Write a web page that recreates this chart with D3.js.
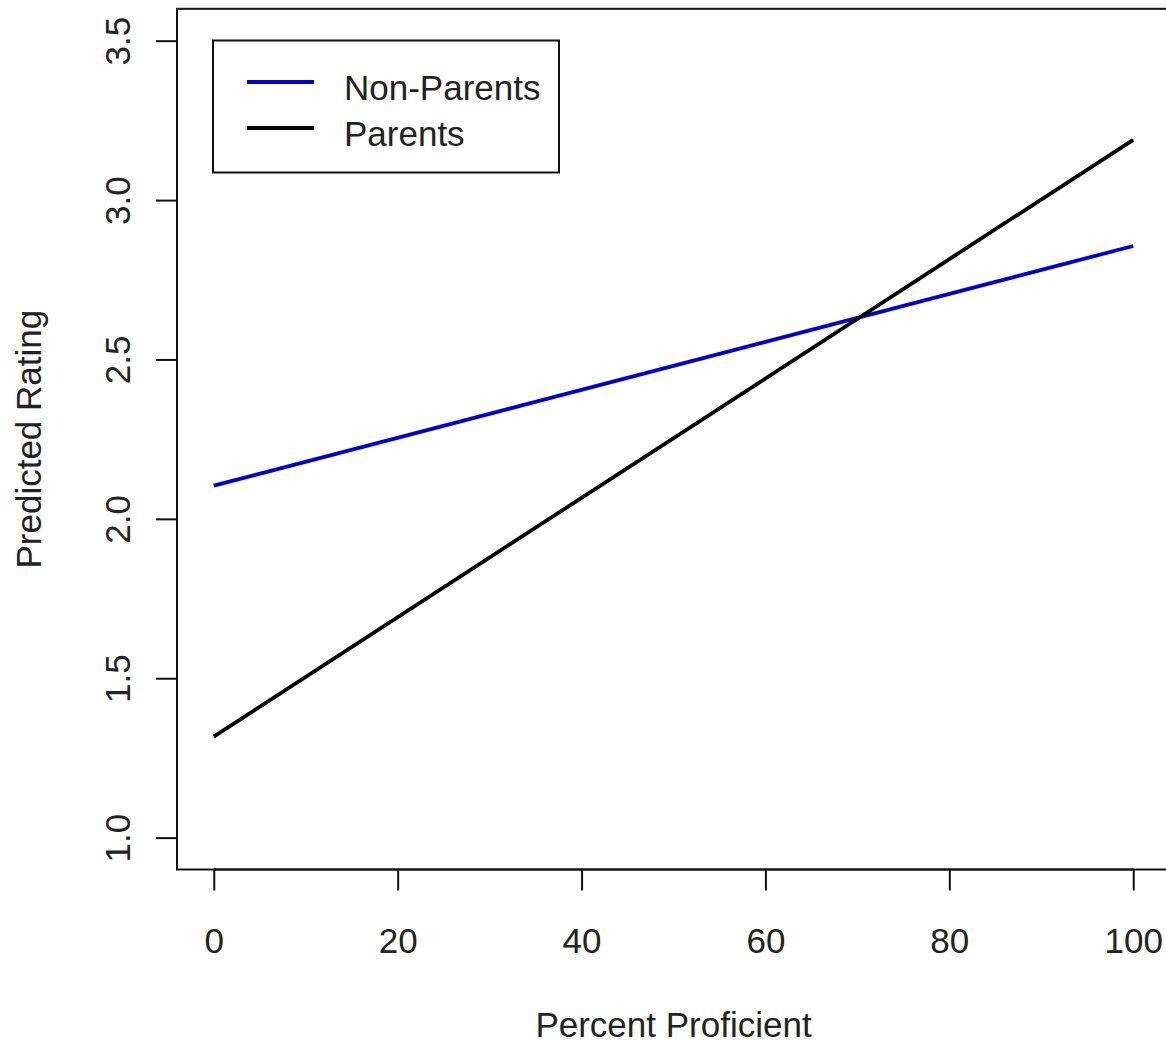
<!DOCTYPE html>
<html>
<head>
<meta charset="utf-8">
<script src="https://cdn.jsdelivr.net/npm/d3@7"></script>
<style>
  html, body { margin: 0; padding: 0; background: #fff; }
  svg { display: block; }
  text { font-family: "Liberation Sans", Arial, sans-serif; fill: #222; }
</style>
</head>
<body>
<svg id="chart" width="1166" height="1043"></svg>
<script>
// ---- Data ----
const xValues = [0, 100];
const nonParents = [2.104, 2.856];
const parents = [1.317, 3.189];
const seriesNames = ["Non-Parents", "Parents"];
const xTicks = [0, 20, 40, 60, 80, 100];
const yTicks = [1.0, 1.5, 2.0, 2.5, 3.0, 3.5];
const xTitle = "Percent Proficient";
const yTitle = "Predicted Rating";

// ---- Layout ----
const svg = d3.select("#chart");
const x = d3.scaleLinear().domain([-4, 104]).range([177, 1170]);
const y = d3.scaleLinear().domain([0.9, 3.6]).range([869.5, 8.8]);
const fs = 35;
const font = "Liberation Sans, Arial, sans-serif";

// plot box
svg.append("rect")
  .attr("x", x(-4)).attr("y", y(3.6))
  .attr("width", x(104) - x(-4)).attr("height", y(0.9) - y(3.6))
  .attr("fill", "none").attr("stroke", "#111").attr("stroke-width", 2);

// x axis
const xAxis = d3.axisBottom(x).tickValues(xTicks).tickSize(21).tickPadding(0).tickFormat(d3.format("d"));
const gx = svg.append("g").attr("transform", `translate(0,${y(0.9)})`).call(xAxis);
gx.select(".domain").attr("d", `M${x(0)},0H${x(100)}`).attr("stroke", "#111").attr("stroke-width", 2);
gx.selectAll(".tick line").attr("stroke", "#111").attr("stroke-width", 2);
gx.selectAll(".tick text")
  .attr("y", 83).attr("dy", null)
  .attr("font-size", fs).attr("font-family", font).attr("fill", "#222");

// y axis
const yAxis = d3.axisLeft(y).tickValues(yTicks).tickSize(21).tickPadding(0).tickFormat(d3.format(".1f"));
const gy = svg.append("g").attr("transform", `translate(${x(-4)},0)`).call(yAxis);
gy.select(".domain").attr("d", `M0,${y(1.0)}V${y(3.5)}`).attr("stroke", "#111").attr("stroke-width", 2);
gy.selectAll(".tick line").attr("stroke", "#111").attr("stroke-width", 2);
gy.selectAll(".tick text")
  .attr("x", null).attr("dy", null)
  .attr("text-anchor", "middle")
  .attr("transform", "translate(-47,0) rotate(-90)")
  .attr("font-size", fs).attr("font-family", font).attr("fill", "#222");

// axis titles
svg.append("text").attr("x", (x(0) + x(100)) / 2).attr("y", 1037)
  .attr("text-anchor", "middle").attr("font-size", fs).text(xTitle);
svg.append("text").attr("transform", `translate(41,${(y(1.0) + y(3.5)) / 2}) rotate(-90)`)
  .attr("text-anchor", "middle").attr("font-size", fs).text(yTitle);

// lines
const line = d3.line().x((d, i) => x(xValues[i])).y(d => y(d));
svg.append("path").datum(nonParents).attr("d", line)
  .attr("fill", "none").attr("stroke", "#0000CC").attr("stroke-width", 3.8);
svg.append("path").datum(parents).attr("d", line)
  .attr("fill", "none").attr("stroke", "#000").attr("stroke-width", 3.8);

// legend
const lg = svg.append("g");
lg.append("rect").attr("x", 213).attr("y", 40.5).attr("width", 346).attr("height", 132)
  .attr("fill", "#fff").attr("stroke", "#111").attr("stroke-width", 2);
const colors = ["#0000CC", "#000"];
seriesNames.forEach((name, i) => {
  const ly = 82 + i * 46;
  lg.append("line").attr("x1", 247).attr("x2", 314).attr("y1", ly).attr("y2", ly)
    .attr("stroke", colors[i]).attr("stroke-width", 3.8);
  lg.append("text").attr("x", 344).attr("y", ly + 18).attr("font-size", fs).text(name);
});
</script>
</body>
</html>
